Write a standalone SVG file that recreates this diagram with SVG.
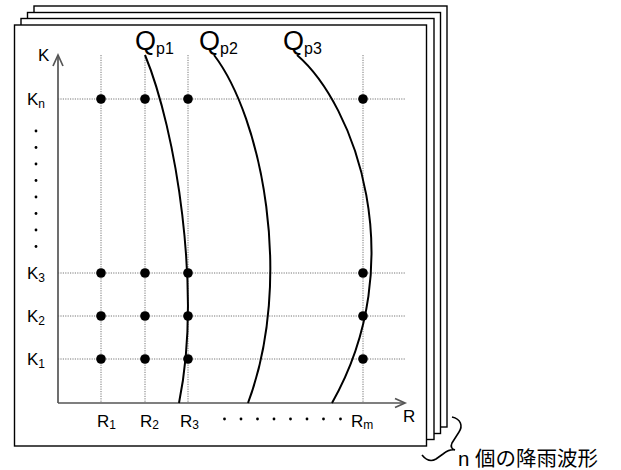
<svg xmlns="http://www.w3.org/2000/svg" width="621" height="470" viewBox="0 0 621 470">
<style>
.frame{fill:#fff;stroke:#000;stroke-width:1.4}
.axis{fill:none;stroke:#555;stroke-width:1.7}
.grid{fill:none;stroke:#777;stroke-width:1;stroke-dasharray:1.2 1.2}
.curve{fill:none;stroke:#000;stroke-width:2}
.pt{fill:#000}
.sd{fill:#000}
text{font-family:"Liberation Sans",Arial,"Noto Sans CJK JP",sans-serif;fill:#000}
.lab{font-size:17px}
.sub{font-size:12px}
.q{font-size:27px}
.qs{font-size:16px}
</style>
<rect width="621" height="470" fill="#fff"/>
<g id="frames">
<rect class="frame" x="34" y="6" width="413" height="421"/>
<rect class="frame" x="27.5" y="12.5" width="413" height="421"/>
<rect class="frame" x="21" y="18.5" width="413" height="421"/>
<rect class="frame" x="14.5" y="25" width="412" height="421"/>
</g>
<g id="grid">
<line class="grid" x1="58" y1="99" x2="406" y2="99"/>
<line class="grid" x1="58" y1="273" x2="406" y2="273"/>
<line class="grid" x1="58" y1="316" x2="406" y2="316"/>
<line class="grid" x1="58" y1="359" x2="406" y2="359"/>
<line class="grid" x1="101" y1="55" x2="101" y2="403"/>
<line class="grid" x1="145" y1="55" x2="145" y2="403"/>
<line class="grid" x1="188" y1="55" x2="188" y2="403"/>
<line class="grid" x1="363" y1="55" x2="363" y2="403"/>
</g>
<g id="axes">
<line class="axis" x1="58" y1="403" x2="58" y2="55"/>
<line class="axis" x1="58" y1="403" x2="405" y2="403"/>
<polyline class="axis" points="53,66 58,55 63,66"/>
<polyline class="axis" points="395,398.5 405,403 395,407.5"/>
</g>
<g id="points">
<circle class="pt" cx="101" cy="99" r="4.8"/><circle class="pt" cx="145" cy="99" r="4.8"/><circle class="pt" cx="188" cy="99" r="4.8"/><circle class="pt" cx="363" cy="99" r="4.8"/>
<circle class="pt" cx="101" cy="273" r="4.8"/><circle class="pt" cx="145" cy="273" r="4.8"/><circle class="pt" cx="188" cy="273" r="4.8"/><circle class="pt" cx="363" cy="273" r="4.8"/>
<circle class="pt" cx="101" cy="316" r="4.8"/><circle class="pt" cx="145" cy="316" r="4.8"/><circle class="pt" cx="188" cy="316" r="4.8"/><circle class="pt" cx="363" cy="316" r="4.8"/>
<circle class="pt" cx="101" cy="359" r="4.8"/><circle class="pt" cx="145" cy="359" r="4.8"/><circle class="pt" cx="188" cy="359" r="4.8"/><circle class="pt" cx="363" cy="359" r="4.8"/>
</g>
<g id="ellipsis">
<circle class="sd" cx="36" cy="131" r="1.4"/><circle class="sd" cx="36" cy="147.5" r="1.4"/><circle class="sd" cx="36" cy="164" r="1.4"/><circle class="sd" cx="36" cy="180.5" r="1.4"/><circle class="sd" cx="36" cy="197" r="1.4"/><circle class="sd" cx="36" cy="213.5" r="1.4"/><circle class="sd" cx="36" cy="230" r="1.4"/><circle class="sd" cx="36" cy="246.5" r="1.4"/>
<circle class="sd" cx="224.5" cy="419" r="1.4"/><circle class="sd" cx="241" cy="419" r="1.4"/><circle class="sd" cx="257.5" cy="419" r="1.4"/><circle class="sd" cx="274" cy="419" r="1.4"/><circle class="sd" cx="290.5" cy="419" r="1.4"/><circle class="sd" cx="307" cy="419" r="1.4"/><circle class="sd" cx="323.5" cy="419" r="1.4"/><circle class="sd" cx="340.5" cy="419" r="1.4"/>
</g>
<g id="connectors">
<path id="qp1" class="curve" d="M145,55 C176,130 202,290 179,403"/>
<path id="qp2" class="curve" d="M214,55 C262,118 294,280 248,403"/>
<path id="qp3" class="curve" d="M297,55 C355,105 412,262 332,403"/>
<path id="brace" d="M452,417 C461,419 463,426 459,432 L452,443 C450,447 452,449 455,450 C450,449 447,451 443,454 L436,459 C431,462 426,460 422,455" fill="none" stroke="#000" stroke-width="1.6"/>
</g>
<g id="labels">
<text class="q" x="135" y="50">Q<tspan class="qs" dy="4">p1</tspan></text>
<text class="q" x="199" y="50">Q<tspan class="qs" dy="4">p2</tspan></text>
<text class="q" x="283" y="50">Q<tspan class="qs" dy="4">p3</tspan></text>
<text class="lab" x="38" y="61">K</text>
<text class="lab" x="27" y="105">K<tspan class="sub" dy="3">n</tspan></text>
<text class="lab" x="27" y="279">K<tspan class="sub" dy="3">3</tspan></text>
<text class="lab" x="27" y="322">K<tspan class="sub" dy="3">2</tspan></text>
<text class="lab" x="27" y="365">K<tspan class="sub" dy="3">1</tspan></text>
<text class="lab" x="97" y="427">R<tspan class="sub" dy="2">1</tspan></text>
<text class="lab" x="140" y="427">R<tspan class="sub" dy="2">2</tspan></text>
<text class="lab" x="180" y="427">R<tspan class="sub" dy="2">3</tspan></text>
<text class="lab" x="351" y="427">R<tspan class="sub" dy="2">m</tspan></text>
<text class="lab" x="403" y="422">R</text>
<text x="458" y="466" style="font-size:20.5px">n 個の降雨波形</text>
</g>
</svg>
